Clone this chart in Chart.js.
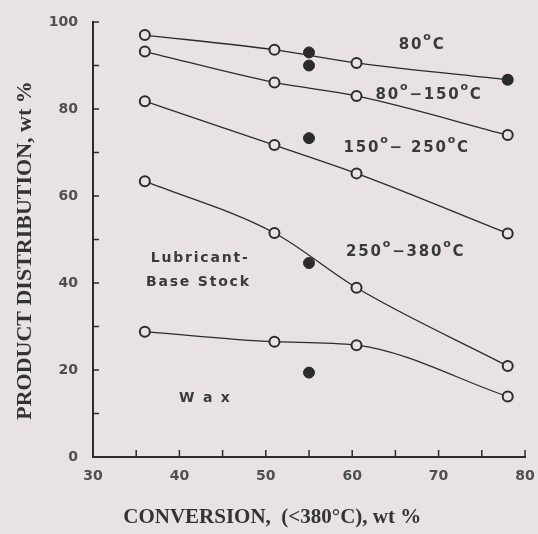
<!DOCTYPE html>
<html>
<head>
<meta charset="utf-8">
<script src="https://cdn.jsdelivr.net/npm/chart.js@4"></script>
<style>
body{margin:0;background:#e8e2e5;}
#wrap{width:538px;height:534px;}
</style>
</head>
<body>
<div id="wrap"><canvas id="c" width="538" height="534"></canvas></div>
<script>

// conversion, wt % (x) for the open-circle runs
let conv=[36,51,60.5,78];

let s80=[97,93.6,90.6,86.7];
let s80_150=[93.2,86.1,83,74];
let s150_250=[81.8,71.7,65.2,51.4];
let s250_380=[63.4,51.5,38.9,20.9];
let wax=[28.8,26.5,25.7,13.9];

// filled points at 55 % conversion
let filledX=[55,55,55,55,55];
let filledY=[93,90,73.3,44.6,19.4];

let xTicks=[30,40,50,60,70,80];
let yTicks=[0,20,40,60,80,100];

let ink="#2b2b2b";
let paper="#e8e2e5";

// text labels, "o" parts are drawn raised
let notes=[
{parts:["80","o","C"],x:68.1,y:94.6,size:15},
{parts:["80","o","\u2212150","o","C"],x:68.9,y:83.2,size:15},
{parts:["150","o","\u2212 250","o","C"],x:66.3,y:71,size:15},
{parts:["250","o","\u2212380","o","C"],x:66.2,y:47.1,size:15},
{parts:["Lubricant-"],x:42.4,y:45.6,size:14},
{parts:["Base Stock"],x:42.2,y:40.2,size:14},
{parts:["W a x"],x:43,y:13.5,size:14}
];

function pts(ys){
return ys.map((v,i)=>({x:conv[i],y:v}));
}

function line(ys,lbl){
return {
label:lbl,
data:pts(ys),
borderColor:ink,
borderWidth:1.3,
pointRadius:5,
pointBorderWidth:2,
pointBackgroundColor:paper,
pointBorderColor:ink,
tension:0.35,
cubicInterpolationMode:"monotone",
fill:false
};
}

let d80=line(s80,"80°C");
d80.pointBackgroundColor=[paper,paper,paper,ink];

let inwardTicks={
id:"inwardTicks",
afterDraw(chart){
let ctx=chart.ctx;
let xs=chart.scales.x, ys=chart.scales.y;
let a=chart.chartArea;
ctx.save();
ctx.strokeStyle=ink;
ctx.lineWidth=1.5;
for(let v=35;v<=80;v+=5){
let px=xs.getPixelForValue(v);
ctx.beginPath();ctx.moveTo(px,a.bottom);ctx.lineTo(px,a.bottom-7);ctx.stroke();
}
for(let v=10;v<=100;v+=10){
let py=ys.getPixelForValue(v);
ctx.beginPath();ctx.moveTo(a.left,py);ctx.lineTo(a.left+6,py);ctx.stroke();
}
// notes
ctx.fillStyle="#3a3a3a";
ctx.textBaseline="middle";
ctx.letterSpacing="1.8px";
let small="bold 11px 'DejaVu Sans', sans-serif";
notes.forEach(n=>{
let big="bold "+n.size+"px 'DejaVu Sans', sans-serif";
let w=0;
n.parts.forEach(p=>{ctx.font=(p==="o")?small:big;w+=ctx.measureText(p).width;});
let px=xs.getPixelForValue(n.x)-w/2;
let py=ys.getPixelForValue(n.y);
n.parts.forEach(p=>{
if(p==="o"){ctx.font=small;ctx.fillText(p,px,py-8);}
else{ctx.font=big;ctx.fillText(p,px,py);}
px+=ctx.measureText(p).width;
});
});
ctx.restore();
}
};

new Chart(document.getElementById("c"),{
type:"line",
data:{
datasets:[
d80,
line(s80_150,"80°–150°C"),
line(s150_250,"150°–250°C"),
line(s250_380,"250°–380°C"),
line(wax,"Wax"),
{
type:"scatter",
label:"55 %",
data:filledX.map((x,i)=>({x:x,y:filledY[i]})),
pointRadius:5.5,
pointBackgroundColor:ink,
pointBorderColor:ink,
showLine:false
}
]
},
options:{
responsive:false,
animation:false,
layout:{padding:{left:0,top:22,right:13,bottom:0}},
plugins:{legend:{display:false},tooltip:{enabled:false}},
scales:{
x:{
type:"linear",
min:30,max:80,
afterBuildTicks(s){s.ticks=xTicks.map(v=>({value:v}));},
afterFit(s){s.height=77;s.paddingLeft=0;s.paddingRight=0;},
grid:{display:false,drawTicks:false},
border:{display:true,color:ink,width:2},
ticks:{color:"#4f4f4f",padding:11,maxRotation:0,font:{family:"'DejaVu Sans', sans-serif",size:14,weight:"bold"}},
title:{display:true,text:"CONVERSION,  (<380°C), wt %\u2007\u2007\u2007\u2007\u2007\u2007\u2007",color:"#333",padding:{top:9},font:{family:"'Liberation Serif','Times New Roman',serif",size:21,weight:"bold"}}
},
y:{
min:0,max:100,
afterBuildTicks(s){s.ticks=yTicks.map(v=>({value:v}));},
afterFit(s){s.width=93;s.paddingTop=0;s.paddingBottom=0;},
grid:{display:false,drawTicks:false},
border:{display:true,color:ink,width:2},
ticks:{color:"#4f4f4f",padding:15,font:{family:"'DejaVu Sans', sans-serif",size:14,weight:"bold"}},
title:{display:true,text:"PRODUCT DISTRIBUTION, wt %\u2007\u2007",color:"#333",padding:{top:12,bottom:0},font:{family:"'Liberation Serif','Times New Roman',serif",size:22,weight:"bold"}}
}
}
},
plugins:[inwardTicks]
});

</script>
</body>
</html>
